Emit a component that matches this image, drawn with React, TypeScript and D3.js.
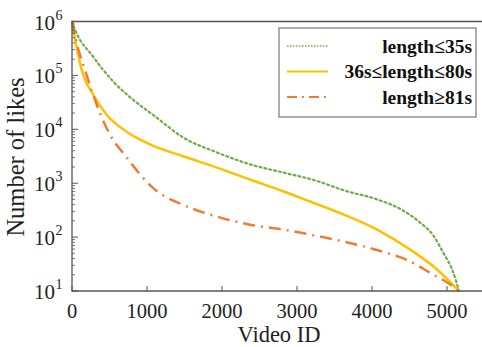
import * as d3 from "d3";
import { useEffect, useRef } from "react";

// Video ID vs number of likes
const shortIds = [0, 40, 280, 547, 813, 1107, 1480, 1933, 2373, 2813, 3267, 3618, 4067, 4418, 4640, 4818, 4951, 5084, 5160];
const shortLikes = [1e6, 7.08e5, 2.24e5, 7.76e4, 3.55e4, 1.74e4, 7.08e3, 3.72e3, 2.24e3, 1.58e3, 1.1e3, 741, 501, 309, 186, 107, 51, 22, 10];

const midIds = [0, 62, 147, 280, 462, 733, 1040, 1480, 1933, 2373, 2813, 3173, 3618, 4067, 4507, 4867, 5160];
const midLikes = [1e6, 3.31e5, 1.05e5, 4.47e4, 1.86e4, 8.91e3, 5.25e3, 3.16e3, 1.95e3, 1.17e3, 708, 457, 263, 138, 58.9, 25.1, 10];

const longIds = [0, 62, 173, 262, 373, 507, 729, 907, 1107, 1480, 1933, 2373, 2813, 3267, 3618, 4067, 4507, 4818, 5000, 5160];
const longLikes = [1e6, 3.98e5, 1.26e5, 5.25e4, 2.0e4, 7.94e3, 3.02e3, 1.45e3, 759, 398, 240, 170, 138, 105, 83, 57.5, 35.5, 20, 14.5, 10];

const legendLabels = ["length≤35s", "36s≤length≤80s", "length≥81s"];
const xTicks = [0, 1000, 2000, 3000, 4000, 5000];
const yExponents = [1, 2, 3, 4, 5, 6];

export default function App() {
  const svgRef = useRef<SVGSVGElement | null>(null);
  const width = 482;
  const height = 347;

  useEffect(() => {
    if (!svgRef.current) return;
    const svg = d3.select(svgRef.current);
    svg.selectAll("*").remove();

    const left = 72;
    const top = 21.5;
    const bottom = 291;
    const font = "Liberation Serif";

    const x = d3.scaleLinear().domain([0, 5500]).range([left, left + 412.5]);
    const y = d3.scaleLog().domain([10, 1e6]).range([bottom, top]);

    const series = [
      { ids: shortIds, likes: shortLikes, color: "#70ad47", dash: "2,3", w: 2.2 },
      { ids: midIds, likes: midLikes, color: "#ffc000", dash: null, w: 2.5 },
      { ids: longIds, likes: longLikes, color: "#ed7d31", dash: "12,6,2,6", w: 2.5 },
    ];

    const line = d3
      .line<[number, number]>()
      .x((d) => x(d[0]))
      .y((d) => y(d[1]))
      .curve(d3.curveMonotoneX);

    // curves
    series.forEach((s) => {
      const pts = s.ids.map((id, i) => [id, s.likes[i]] as [number, number]);
      svg
        .append("path")
        .attr("d", line(pts))
        .attr("fill", "none")
        .attr("stroke", s.color)
        .attr("stroke-width", s.w)
        .attr("stroke-dasharray", s.dash)
        .attr("stroke-linecap", s.dash === "2,3" ? "round" : "butt");
    });

    const axisColor = "#555";

    // frame: left, bottom, top
    svg
      .append("path")
      .attr("d", `M${left},${top}H${width}M${left},${top}V${bottom}H${width}`)
      .attr("fill", "none")
      .attr("stroke", axisColor)
      .attr("stroke-width", 1.3);

    // x ticks (inward)
    xTicks.forEach((t) => {
      svg
        .append("line")
        .attr("x1", x(t))
        .attr("x2", x(t))
        .attr("y1", bottom)
        .attr("y2", bottom - 5)
        .attr("stroke", axisColor);
      svg
        .append("text")
        .attr("x", x(t))
        .attr("y", 317.5)
        .attr("text-anchor", "middle")
        .attr("font-family", font)
        .attr("font-size", 20.5)
        .attr("fill", "#222")
        .text(t);
    });

    // y ticks major + minor
    yExponents.forEach((e) => {
      const v = Math.pow(10, e);
      svg
        .append("line")
        .attr("x1", left)
        .attr("x2", left + 6)
        .attr("y1", y(v))
        .attr("y2", y(v))
        .attr("stroke", axisColor);
      if (e < 6) {
        for (let m = 2; m < 10; m++) {
          svg
            .append("line")
            .attr("x1", left)
            .attr("x2", left + 3)
            .attr("y1", y(v * m))
            .attr("y2", y(v * m))
            .attr("stroke", axisColor)
            .attr("stroke-width", 0.8);
        }
      }
      svg
        .append("text")
        .attr("x", 55)
        .attr("y", y(v) + 8)
        .attr("text-anchor", "end")
        .attr("font-family", font)
        .attr("font-size", 21)
        .attr("fill", "#222")
        .text("10");
      svg
        .append("text")
        .attr("x", 55.5)
        .attr("y", y(v) - 2)
        .attr("font-family", font)
        .attr("font-size", 14)
        .attr("fill", "#222")
        .text(e);
    });

    // axis titles
    svg
      .append("text")
      .attr("x", 279)
      .attr("y", 341.5)
      .attr("text-anchor", "middle")
      .attr("font-family", font)
      .attr("font-size", 22.5)
      .attr("fill", "#222")
      .text("Video ID");

    svg
      .append("text")
      .attr("transform", `translate(24,157) rotate(-90)`)
      .attr("text-anchor", "middle")
      .attr("font-family", font)
      .attr("font-size", 24.5)
      .attr("fill", "#222")
      .text("Number of likes");

    // legend
    const lg = svg.append("g");
    lg.append("rect")
      .attr("x", 279)
      .attr("y", 28)
      .attr("width", 197)
      .attr("height", 89)
      .attr("fill", "white")
      .attr("stroke", "#777")
      .attr("stroke-width", 1.2);
    series.forEach((s, i) => {
      const cy = 46 + i * 25.5;
      lg.append("line")
        .attr("x1", 287)
        .attr("x2", 328)
        .attr("y1", cy)
        .attr("y2", cy)
        .attr("stroke", s.color)
        .attr("stroke-width", s.dash === "2,3" ? 1.4 : 2)
        .attr("stroke-dasharray", s.dash === "2,3" ? "1.5,1.5" : s.dash === null ? null : "10,5,2,5");
      lg.append("text")
        .attr("x", 472)
        .attr("y", cy + 6.5)
        .attr("text-anchor", "end")
        .attr("font-family", font)
        .attr("font-weight", "bold")
        .attr("font-size", 19.5)
        .attr("fill", "#111")
        .text(legendLabels[i]);
    });
  }, [svgRef]);

  return (
    <svg
      ref={svgRef}
      width={width}
      height={height}
      style={{ position: "absolute", left: 0, top: 0, background: "white" }}
    />
  );
}
